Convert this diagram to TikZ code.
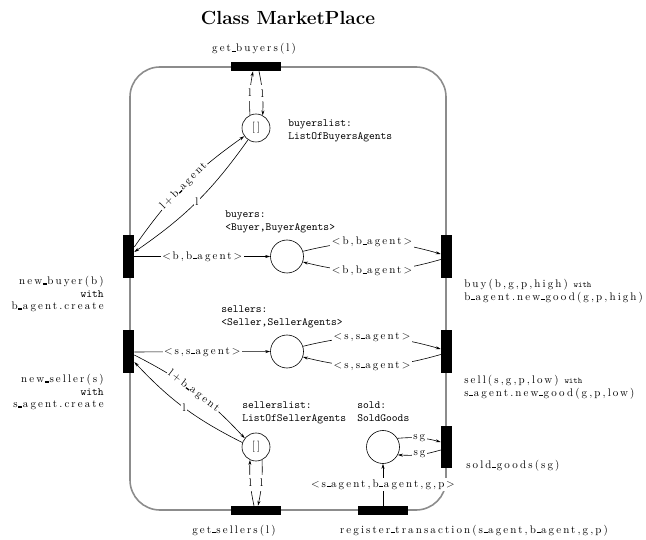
\documentclass[tikz,border=0pt]{standalone}
\usepackage{fontspec}
\usetikzlibrary{arrows.meta, positioning}

\newfontfamily\lroman{lmroman10-regular.otf}[LetterSpace=19]
\newfontfamily\ltt{lmmono10-regular.otf}
\newcommand\lfont{\lroman\fontsize{11}{12.5}\selectfont}
\newcommand\tfont{\ltt\fontsize{11}{13.5}\selectfont}
\newcommand\tsfont{\ltt\fontsize{8.5}{10}\selectfont}
\newcommand\us{\kern0.6pt\rule{4pt}{1.3pt}\kern0.6pt}

\begin{document}
\begin{tikzpicture}[x=1pt, y=-1pt, line width=0.6pt,
    >={Stealth[length=5pt, width=3pt]},
    trh/.style={fill=black, minimum width=50pt, minimum height=9pt, inner sep=0pt},
    trv/.style={fill=black, minimum width=11pt, minimum height=43pt, inner sep=0pt},
    place/.style={draw, circle, minimum size=33pt, inner sep=0pt},
    lbl/.style={font=\lfont, inner sep=0pt},
    arclbl/.style={font=\lfont, fill=white, inner sep=1.5pt},
    tlbl/.style={font=\tfont, inner sep=0pt, align=left}]
  \useasboundingbox (0,0) rectangle (646,540);

  % class border
  \draw[black!45, line width=1.6pt, rounded corners=30pt] (130,67) rectangle (446,510);

  % transitions
  \node[trh] (getB)  at (256,66.5)  {};
  \node[trv] (newB)  at (128.5,256.5) {};
  \node[trv] (newS)  at (128.5,352) {};
  \node[trv] (buy)   at (446.5,256.5) {};
  \node[trv] (sell)  at (446.5,351.5) {};
  \node[trv, minimum height=42pt] (soldG) at (446.5,447) {};
  \node[trh] (getS)  at (256,510.5) {};
  \node[trh] (reg)   at (383,510.5) {};

  % places
  \node[place, minimum size=28pt, font=\lfont] (bList) at (256,128) {[]};
  \node[place] (buyers)  at (287,256.5) {};
  \node[place] (sellers) at (287,351.5) {};
  \node[place, minimum size=28pt, font=\lfont] (sList) at (256,447) {[]};
  \node[place] (sold)    at (383,447) {};

  % arcs
  \draw[->] (bList.115) to[bend left=7] node[arclbl, inner xsep=1pt, inner ysep=4pt] {l} ([xshift=-3pt]getB.south);
  \draw[->] ([xshift=3pt]getB.south) to[bend left=7] node[arclbl, inner xsep=1pt, inner ysep=4pt] {l} (bList.62);
  \draw[->] ([xshift=-2pt]getS.north) to[bend left=7] node[arclbl, inner xsep=1pt, inner ysep=4pt] {l} (sList.245);
  \draw[->] (sList.295) to[bend left=7] node[arclbl, inner xsep=1pt, inner ysep=4pt] {l} ([xshift=2pt]getS.north);

  \draw[->] ([yshift=9.5pt]newB.east) to[bend left=10] node[arclbl, sloped] {l+b\us agent} (bList.215);
  \draw[->] (bList.236) to[bend left=10] node[arclbl] {l} ([yshift=4.5pt]newB.east);
  \draw[->] ([yshift=-3pt]newS.east) to[bend left=10] node[arclbl, sloped] {l+b\us agent} (sList.142);
  \draw[->] (sList.162) to[bend left=10] node[arclbl] {l} ([yshift=-10pt]newS.east);

  \draw[->] (newB) -- node[arclbl] {<\,b,b\us agent\,>} (buyers);
  \draw[->] (newS) -- node[arclbl] {<\,s,s\us agent\,>} (sellers);

  \draw[->] (buyers.18) to[bend left=15] node[arclbl] {<b,b\us agent>} ([yshift=2.5pt]buy.west);
  \draw[->] ([yshift=-3pt]buy.west) to[bend left=15] node[arclbl] {<b,b\us agent>} (buyers.-19);
  \draw[->] (sellers.18) to[bend left=15] node[arclbl] {<s,s\us agent>} ([yshift=2.5pt]sell.west);
  \draw[->] ([yshift=-3pt]sell.west) to[bend left=15] node[arclbl] {<s,s\us agent>} (sellers.-19);

  \draw[->] (sold.31) to[bend left=10] node[arclbl] {sg} ([yshift=5pt]soldG.west);
  \draw[->] ([yshift=-3pt]soldG.west) to[bend left=10] node[arclbl] {sg} (sold.-28);
  \draw[->] (reg) -- node[arclbl] {<\,s\us agent,b\us agent,g,p\,>} (sold);

  % texts
  \node[font=\fontsize{19}{22}\selectfont\bfseries] (title) at (288,18) {Class MarketPlace};
  \node[lbl, anchor=base] (getBL) at (254,52) {get\us buyers(l)};
  \node[lbl, anchor=base] (getSL) at (234,533) {get\us sellers(l)};
  \node[lbl, anchor=base] (regL) at (474,533) {register\us transaction(s\us agent,b\us agent,g,p)};
  \node[lbl, anchor=base west] (soldGL) at (466,468) {sold\us goods(sg)};

  \node[tlbl, anchor=north west] (bListL) at (288,119) {buyerslist:\\ListOfBuyersAgents};
  \node[tlbl, anchor=north west] (buyersL) at (225,210) {buyers:\\<Buyer,BuyerAgents>};
  \node[tlbl, anchor=north west] (sellersL) at (221,305) {sellers:\\<Seller,SellerAgents>};
  \node[tlbl, anchor=north west] (sListL) at (242,401) {sellerslist:\\ListOfSellerAgents};
  \node[tlbl, anchor=north west] (soldL) at (357,401) {sold:\\SoldGoods};

  \node[lbl, align=right, anchor=north east] (newBL) at (104,276)
    {new\us buyer(b)\\{\tfont with}\\b\us agent.create};
  \node[lbl, align=right, anchor=north east] (newSL) at (104,374)
    {new\us seller(s)\\{\tfont with}\\s\us agent.create};
  \node[lbl, align=left, anchor=north west] (buyL) at (464,279)
    {buy(b,g,p,high) {\tsfont with}\\b\us agent.new\us good(g,p,high)};
  \node[lbl, align=left, anchor=north west] (sellL) at (464,375)
    {sell(s,g,p,low) {\tsfont with}\\s\us agent.new\us good(g,p,low)};
\end{tikzpicture}
\end{document}
